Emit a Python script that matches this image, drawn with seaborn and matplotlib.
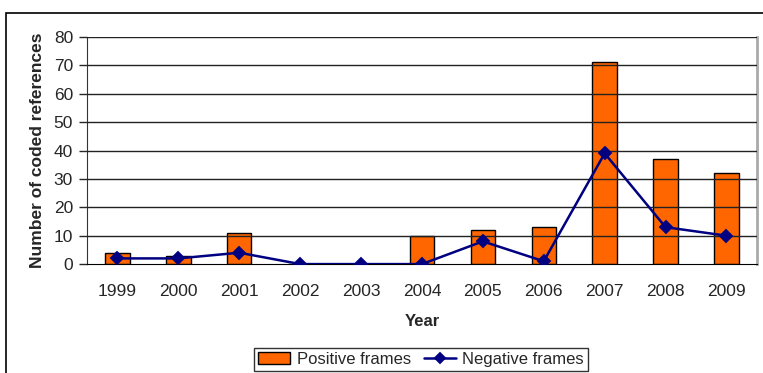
import matplotlib
matplotlib.use("Agg")
import matplotlib.pyplot as plt
import seaborn as sns
import pandas as pd
from matplotlib.patches import Rectangle

years = ["1999", "2000", "2001", "2002", "2003", "2004",
         "2005", "2006", "2007", "2008", "2009"]
positive = [4, 3, 11, 0, 0, 10, 12, 13, 71, 37, 32]
negative = [2, 2, 4, 0, 0, 0, 8, 1, 39, 13, 10]

df = pd.DataFrame({"Year": years, "Positive frames": positive,
                   "Negative frames": negative})

sns.set_style("white")
plt.rcParams["font.family"] = ["Liberation Sans", "DejaVu Sans"]

fig = plt.figure(figsize=(7.63, 3.73), dpi=100)
ax = fig.add_axes([0.114, 0.292, 0.878, 0.609])

# gridlines under the bars
for v in range(10, 90, 10):
    ax.axhline(v, color="#222222", lw=1, zorder=0)

sns.barplot(data=df, x="Year", y="Positive frames", color="#FF6600",
            edgecolor="black", linewidth=1, width=0.4, saturation=1,
            ax=ax, zorder=2, label="Positive frames")
sns.pointplot(data=df, x="Year", y="Negative frames", color="#000080",
              markers="D", markersize=6, linewidth=1.8, ax=ax,
              label="Negative frames")
for c in ax.collections:
    c.set_zorder(4)
for l in ax.lines:
    l.set_zorder(4)

ax.set_xlim(-0.5, 10.5)
ax.set_ylim(0, 80)
ax.set_yticks(range(0, 90, 10))
ax.set_xticks(range(11))
ax.set_xticklabels(years)
ax.set_xticks([i - 0.5 for i in range(12)], minor=True)
ax.tick_params(axis="x", which="major", length=0, pad=14, labelsize=12.5)
ax.tick_params(axis="x", which="minor", length=6, width=1, color="#444444",
               direction="out")
ax.tick_params(axis="y", length=6, width=1, direction="out", labelsize=12.5,
               pad=4, left=True)

ax.spines["top"].set_visible(False)
ax.spines["left"].set_color("#333333")
ax.spines["bottom"].set_color("black")
ax.spines["right"].set_color("#aaaaaa")
ax.spines["right"].set_linewidth(2)

ax.set_xlabel("Year", fontsize=12, fontweight="bold", labelpad=11)
ax.set_ylabel("Number of coded references", fontsize=12.5, fontweight="bold",
              labelpad=6)

handles, labels = ax.get_legend_handles_labels()
order = [labels.index("Positive frames"), labels.index("Negative frames")]
leg = ax.legend([handles[i] for i in order], [labels[i] for i in order],
                loc="center", bbox_to_anchor=(0.552, 0.037),
                bbox_transform=fig.transFigure, ncol=2, frameon=True,
                fontsize=12, handlelength=1.9, columnspacing=0.8,
                handletextpad=0.4, borderpad=0.25, fancybox=False,
                markerscale=0.8)
leg.get_frame().set_edgecolor("black")
leg.get_frame().set_linewidth(1)

# outer chart frame (cropped at right and bottom)
fig.patches.append(Rectangle((0.008, -0.5), 2, 0.5 + 0.965,
                             transform=fig.transFigure, fill=False,
                             edgecolor="black", lw=1.2))

fig.savefig("out.png", dpi=100)
